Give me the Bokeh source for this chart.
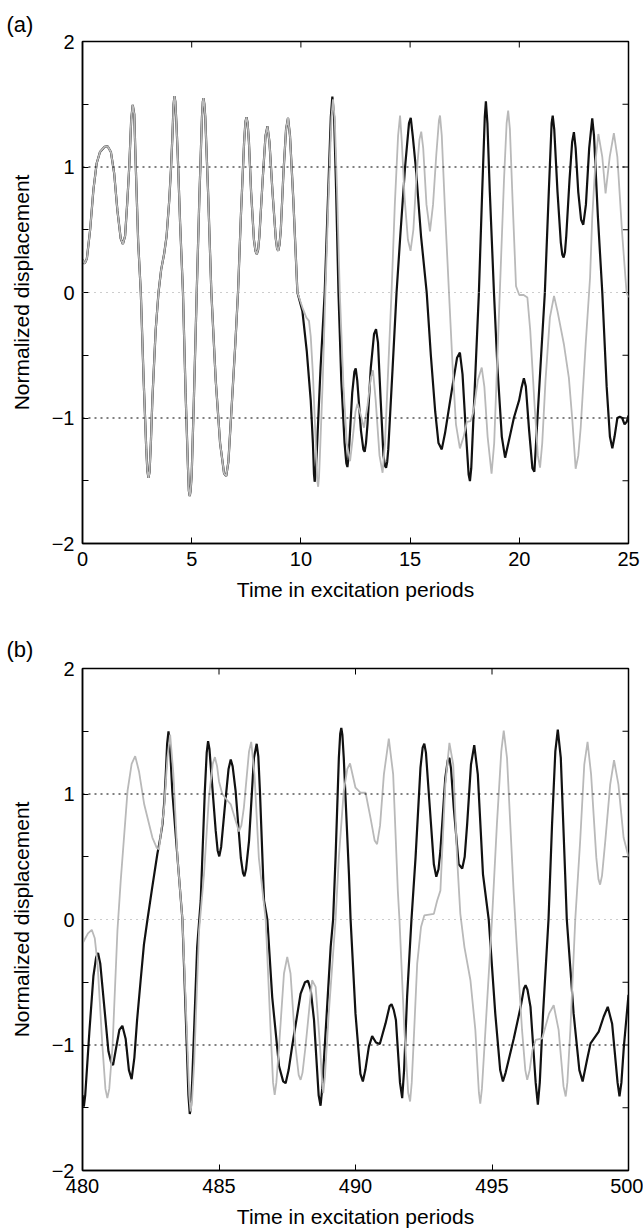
import math
from bokeh.plotting import figure
from bokeh.models import Range1d, FixedTicker, Span
from bokeh.layouts import column
from bokeh.embed import file_html
from bokeh.resources import INLINE

# ---------------- data ----------------
# panel (a): both responses coincide until ~9.8 periods
common_a = [(0.0, 0.26), (0.1, 0.23), (0.2, 0.27), (0.35, 0.5), (0.5, 0.82), (0.65, 1.03),
            (0.8, 1.12), (1.0, 1.16), (1.15, 1.165), (1.3, 1.12), (1.45, 0.95), (1.6, 0.65),
            (1.75, 0.43), (1.85, 0.386), (1.95, 0.45), (2.05, 0.72), (2.14, 1.0), (2.23, 1.38),
            (2.3, 1.495), (2.37, 1.42), (2.44, 1.0), (2.55, 0.4), (2.67, 0.0), (2.8, -0.7),
            (2.92, -1.25), (2.97, -1.42), (3.02, -1.476), (3.07, -1.43), (3.13, -1.2), (3.2, -0.85),
            (3.35, -0.3), (3.48, 0.0), (3.6, 0.18), (3.74, 0.31), (3.85, 0.45), (3.97, 0.73),
            (4.05, 0.98), (4.12, 1.26), (4.17, 1.5), (4.21, 1.564), (4.25, 1.52), (4.3, 1.35),
            (4.36, 1.1), (4.47, 0.55), (4.6, 0.0), (4.72, -0.8), (4.83, -1.4), (4.87, -1.58),
            (4.91, -1.622), (4.95, -1.58), (5.0, -1.45), (5.1, -0.85), (5.23, 0.0), (5.35, 0.75),
            (5.47, 1.4), (5.51, 1.52), (5.54, 1.548), (5.58, 1.5), (5.62, 1.4), (5.75, 0.8),
            (5.9, 0.0), (6.1, -0.7), (6.3, -1.2), (6.48, -1.44), (6.58, -1.463), (6.68, -1.35),
            (6.85, -0.85), (7.0, -0.4), (7.12, 0.0), (7.25, 0.6), (7.4, 1.2), (7.46, 1.36),
            (7.51, 1.396), (7.56, 1.35), (7.62, 1.2), (7.72, 0.8), (7.85, 0.42), (7.92, 0.33),
            (7.98, 0.306), (8.04, 0.34), (8.1, 0.45), (8.25, 0.9), (8.38, 1.25), (8.47, 1.324),
            (8.56, 1.2), (8.7, 0.8), (8.85, 0.43), (8.91, 0.35), (8.96, 0.332), (9.02, 0.38),
            (9.08, 0.5), (9.2, 0.95), (9.32, 1.3), (9.41, 1.391), (9.5, 1.25), (9.65, 0.75),
            (9.84, 0.0)]

black_a_rest = [(10.07, -0.15), (10.27, -0.47), (10.45, -0.86), (10.55, -1.2), (10.6, -1.45),
                (10.63, -1.508), (10.67, -1.45), (10.72, -1.3), (10.9, -0.6), (11.09, 0.0),
                (11.25, 0.8), (11.37, 1.4), (11.44, 1.561), (11.52, 1.4), (11.6, 0.9), (11.72, 0.0),
                (11.85, -0.7), (12.0, -1.2), (12.08, -1.36), (12.13, -1.391), (12.17, -1.33),
                (12.22, -1.2), (12.35, -0.8), (12.45, -0.63), (12.51, -0.604), (12.58, -0.7),
                (12.75, -1.1), (12.86, -1.25), (12.92, -1.269), (12.98, -1.2), (13.05, -1.05),
                (13.2, -0.6), (13.35, -0.33), (13.44, -0.293), (13.53, -0.4), (13.65, -0.85),
                (13.78, -1.3), (13.85, -1.38), (13.9, -1.396), (13.95, -1.35), (14.0, -1.25),
                (14.2, -0.6), (14.38, 0.0), (14.55, 0.45), (14.77, 1.0), (14.95, 1.35),
                (15.03, 1.391), (15.12, 1.25), (15.26, 1.0), (15.5, 0.45), (15.76, 0.0),
                (15.95, -0.5), (16.15, -0.95), (16.3, -1.2), (16.45, -1.25), (16.6, -1.12),
                (16.8, -0.9), (17.0, -0.68), (17.15, -0.52), (17.28, -0.479), (17.4, -0.65),
                (17.55, -1.1), (17.68, -1.45), (17.74, -1.503), (17.8, -1.4), (17.85, -1.2),
                (18.0, -0.6), (18.15, 0.0), (18.3, 0.8), (18.42, 1.4), (18.47, 1.524), (18.54, 1.35),
                (18.65, 0.8), (18.84, 0.0), (19.0, -0.6), (19.2, -1.15), (19.35, -1.316),
                (19.5, -1.2), (19.75, -1.0), (19.99, -0.86), (20.1, -0.76), (20.21, -0.684),
                (20.3, -0.75), (20.45, -1.1), (20.6, -1.4), (20.69, -1.428), (20.8, -1.1),
                (21.0, -0.5), (21.17, 0.0), (21.35, 0.8), (21.48, 1.35), (21.53, 1.41), (21.6, 1.3),
                (21.75, 0.8), (21.9, 0.4), (21.97, 0.3), (22.03, 0.279), (22.09, 0.32),
                (22.15, 0.45), (22.3, 0.9), (22.42, 1.2), (22.5, 1.277), (22.58, 1.15), (22.7, 0.8),
                (22.83, 0.58), (22.93, 0.54), (23.05, 0.7), (23.2, 1.15), (23.34, 1.388),
                (23.42, 1.25), (23.6, 0.6), (23.8, 0.0), (24.0, -0.75), (24.15, -1.15),
                (24.26, -1.242), (24.36, -1.15), (24.49, -1.0), (24.6, -0.99), (24.71, -1.0),
                (24.82, -1.05), (24.92, -1.03), (25.0, -0.98)]

gray_a_rest = [(10.07, -0.12), (10.25, -0.2), (10.37, -0.226), (10.45, -0.35), (10.55, -0.65),
               (10.68, -1.2), (10.75, -1.5), (10.79, -1.548), (10.83, -1.47), (10.87, -1.3),
               (11.0, -0.7), (11.12, 0.0), (11.27, 0.8), (11.4, 1.4), (11.47, 1.54), (11.55, 1.38),
               (11.65, 0.85), (11.78, 0.0), (11.95, -0.75), (12.1, -1.2), (12.25, -1.343),
               (12.38, -1.15), (12.5, -0.95), (12.59, -0.886), (12.7, -0.95), (12.89, -1.077),
               (13.05, -0.9), (13.2, -0.68), (13.3, -0.62), (13.42, -0.85), (13.6, -1.3),
               (13.74, -1.436), (13.85, -1.2), (14.0, -0.6), (14.15, 0.0), (14.3, 0.7),
               (14.45, 1.25), (14.54, 1.41), (14.62, 1.2), (14.75, 0.75), (14.9, 0.42),
               (15.02, 0.332), (15.15, 0.5), (15.3, 0.95), (15.43, 1.22), (15.51, 1.282),
               (15.6, 1.15), (15.75, 0.7), (15.91, 0.487), (16.05, 0.7), (16.2, 1.1), (16.32, 1.37),
               (16.37, 1.41), (16.45, 1.25), (16.6, 0.65), (16.78, 0.0), (16.95, -0.6),
               (17.1, -1.05), (17.28, -1.242), (17.45, -1.15), (17.6, -1.03), (17.77, -1.024),
               (17.9, -0.95), (18.1, -0.7), (18.28, -0.598), (18.4, -0.75), (18.55, -1.15),
               (18.73, -1.444), (18.85, -1.2), (19.0, -0.5), (19.15, 0.2), (19.3, 0.9),
               (19.42, 1.35), (19.49, 1.449), (19.57, 1.3), (19.7, 0.7), (19.85, 0.05),
               (20.0, -0.02), (20.2, -0.02), (20.37, -0.04), (20.5, -0.3), (20.7, -0.9),
               (20.85, -1.3), (20.95, -1.396), (21.05, -1.2), (21.2, -0.7), (21.4, -0.2),
               (21.59, -0.027), (21.75, -0.15), (22.04, -0.41), (22.27, -0.68), (22.43, -1.02),
               (22.58, -1.404), (22.7, -1.3), (22.81, -1.08), (23.04, -0.41), (23.24, 0.12),
               (23.34, 0.6), (23.49, 1.05), (23.62, 1.263), (23.8, 1.08), (23.95, 0.79),
               (24.14, 1.08), (24.33, 1.269), (24.49, 1.08), (24.71, 0.47), (24.91, 0.0),
               (25.0, -0.04)]

black_b = [(480.0, -1.4), (480.05, -1.49), (480.1, -1.4), (480.25, -0.9), (480.4, -0.45), (480.5, -0.3),
           (480.57, -0.267), (480.65, -0.35), (480.8, -0.7), (480.95, -1.05), (481.05, -1.14),
           (481.12, -1.159), (481.25, -1.0), (481.35, -0.88), (481.46, -0.847), (481.58, -0.95),
           (481.7, -1.2), (481.8, -1.272), (481.9, -1.1), (482.0, -0.8), (482.13, -0.484),
           (482.25, -0.2), (482.38, 0.0), (482.55, 0.25), (482.74, 0.52), (482.85, 0.65),
           (482.93, 0.76), (483.0, 0.95), (483.05, 1.156), (483.1, 1.4), (483.15, 1.5),
           (483.2, 1.4), (483.29, 1.02), (483.48, 0.49), (483.66, 0.0), (483.78, -0.75),
           (483.88, -1.4), (483.93, -1.55), (483.97, -1.5), (484.02, -1.28), (484.2, -0.22),
           (484.33, 0.15), (484.48, 1.02), (484.55, 1.33), (484.6, 1.421), (484.65, 1.36),
           (484.72, 1.156), (484.88, 0.706), (484.95, 0.55), (485.01, 0.503), (485.08, 0.58),
           (485.21, 0.89), (485.35, 1.2), (485.43, 1.275), (485.5, 1.22), (485.61, 1.02),
           (485.8, 0.49), (485.88, 0.37), (485.93, 0.344), (485.99, 0.4), (486.1, 0.627),
           (486.28, 1.288), (486.38, 1.4), (486.44, 1.3), (486.5, 1.02), (486.65, 0.15),
           (486.77, 0.0), (486.95, -0.62), (487.2, -1.17), (487.35, -1.29), (487.44, -1.304),
           (487.55, -1.2), (487.68, -1.01), (487.99, -0.59), (488.15, -0.5), (488.26, -0.489),
           (488.36, -0.56), (488.48, -0.8), (488.65, -1.4), (488.72, -1.484), (488.78, -1.35),
           (488.91, -0.88), (489.09, -0.22), (489.18, 0.0), (489.27, 0.495), (489.39, 1.288),
           (489.44, 1.48), (489.48, 1.526), (489.52, 1.47), (489.57, 1.288), (489.76, 0.36),
           (489.82, 0.0), (490.0, -0.75), (490.18, -1.23), (490.27, -1.291), (490.36, -1.2),
           (490.49, -1.013), (490.61, -0.929), (490.75, -0.98), (490.89, -0.992), (491.1, -0.828),
           (491.25, -0.69), (491.32, -0.675), (491.4, -0.72), (491.48, -0.8), (491.63, -1.3),
           (491.71, -1.423), (491.78, -1.2), (491.89, -0.616), (492.05, 0.0), (492.2, 0.495),
           (492.38, 1.21), (492.46, 1.37), (492.52, 1.4), (492.58, 1.33), (492.68, 1.02),
           (492.87, 0.44), (492.96, 0.341), (493.04, 0.4), (493.11, 0.548), (493.29, 1.13),
           (493.38, 1.27), (493.44, 1.288), (493.5, 1.2), (493.6, 0.89), (493.78, 0.44),
           (493.91, 0.407), (494.0, 0.5), (494.09, 0.76), (494.23, 1.235), (494.35, 1.389),
           (494.48, 1.156), (494.67, 0.36), (494.88, 0.0), (495.12, -0.75), (495.3, -1.2),
           (495.4, -1.291), (495.5, -1.22), (495.61, -1.119), (495.8, -0.947), (496.05, -0.696),
           (496.17, -0.55), (496.23, -0.524), (496.3, -0.56), (496.41, -0.696), (496.6, -1.3),
           (496.68, -1.476), (496.75, -1.3), (496.87, -0.75), (497.07, 0.0), (497.2, 0.76),
           (497.32, 1.34), (497.41, 1.513), (497.52, 1.288), (497.68, 0.36), (497.74, 0.0),
           (497.99, -0.75), (498.2, -1.2), (498.32, -1.291), (498.48, -1.12), (498.61, -0.987),
           (498.91, -0.894), (499.09, -0.775), (499.24, -0.696), (499.4, -0.83), (499.6, -1.3),
           (499.67, -1.41), (499.74, -1.3), (499.83, -1.013), (500.0, -0.6)]

gray_b = [(480.0, -0.19), (480.04, -0.175), (480.2, -0.11), (480.34, -0.082), (480.45, -0.15),
          (480.55, -0.35), (480.73, -1.01), (480.84, -1.35), (480.91, -1.423), (480.98, -1.35),
          (481.1, -1.01), (481.28, -0.087), (481.4, 0.31), (481.65, 1.024), (481.8, 1.24),
          (481.93, 1.302), (482.07, 1.18), (482.26, 0.918), (482.56, 0.653), (482.72, 0.57),
          (482.8, 0.561), (482.99, 0.89), (483.11, 1.288), (483.21, 1.474), (483.33, 1.156),
          (483.48, 0.49), (483.66, 0.0), (483.82, -0.88), (483.91, -1.4), (483.96, -1.529),
          (484.01, -1.45), (484.09, -1.145), (484.27, -0.087), (484.45, 0.36), (484.63, 0.97),
          (484.77, 1.24), (484.85, 1.294), (484.93, 1.22), (485.0, 1.1), (485.12, 1.0),
          (485.3, 0.95), (485.43, 0.918), (485.61, 0.786), (485.73, 0.701), (485.82, 0.75),
          (485.91, 0.89), (486.1, 1.34), (486.18, 1.415), (486.3, 1.156), (486.46, 0.49),
          (486.71, 0.0), (486.89, -0.88), (486.98, -1.3), (487.04, -1.397), (487.1, -1.3),
          (487.2, -1.01), (487.38, -0.43), (487.5, -0.299), (487.62, -0.43), (487.8, -1.01),
          (487.92, -1.24), (487.99, -1.278), (488.06, -1.22), (488.17, -1.01), (488.41, -0.484),
          (488.54, -0.537), (488.7, -1.01), (488.78, -1.3), (488.82, -1.384), (488.88, -1.25),
          (489.02, -0.75), (489.27, 0.0), (489.39, 0.495), (489.57, 1.024), (489.7, 1.2),
          (489.8, 1.243), (490.0, 1.05), (490.18, 1.01), (490.37, 1.01), (490.55, 0.81),
          (490.7, 0.63), (490.79, 0.6), (490.9, 0.75), (491.04, 1.156), (491.22, 1.442),
          (491.38, 1.156), (491.55, 0.23), (491.61, 0.0), (491.79, -0.88), (491.93, -1.38),
          (492.0, -1.45), (492.06, -1.3), (492.15, -0.88), (492.26, -0.352), (492.4, -0.06),
          (492.52, 0.032), (492.87, 0.045), (492.99, 0.15), (493.11, 0.23), (493.29, 1.077),
          (493.44, 1.407), (493.58, 1.235), (493.72, 0.495), (493.84, 0.045), (493.99, -0.22),
          (494.21, -0.484), (494.39, -0.88), (494.52, -1.38), (494.57, -1.468), (494.63, -1.35),
          (494.76, -0.88), (495.0, 0.0), (495.18, 0.76), (495.34, 1.34), (495.43, 1.505),
          (495.55, 1.288), (495.79, 0.23), (495.91, -0.22), (496.1, -0.88), (496.22, -1.2),
          (496.29, -1.278), (496.38, -1.2), (496.48, -1.04), (496.6, -0.96), (496.84, -0.947),
          (497.09, -0.75), (497.26, -0.683), (497.44, -0.88), (497.62, -1.33), (497.7, -1.41),
          (497.76, -1.3), (497.87, -0.88), (498.05, 0.0), (498.23, 0.627), (498.38, 1.235),
          (498.5, 1.415), (498.63, 1.156), (498.82, 0.495), (498.9, 0.32), (498.96, 0.278),
          (499.03, 0.35), (499.15, 0.627), (499.33, 1.077), (499.47, 1.27), (499.63, 1.077),
          (499.82, 0.653), (500.0, 0.5)]

x_ticks_a = [0, 5, 10, 15, 20, 25]
x_ticks_b = [480, 485, 490, 495, 500]
y_ticks = [-2, -1, 0, 1, 2]
y_minor = [-1.5, -0.5, 0.5, 1.5]
y_tick_labels = {-2: "\u22122", -1: "\u22121", 0: "0", 1: "1", 2: "2"}
ref_levels = [1, -1]
zero_level = 0
y_lo, y_hi = -2, 2

FONT = "Liberation Sans"
FS = "20px"
LFS = "21px"


def unzip(pairs):
    return [p[0] for p in pairs], [p[1] for p in pairs]


def style_axis(ax, ticker, overrides=None):
    ax.ticker = ticker
    ax.axis_line_color = "black"
    ax.axis_line_width = 1.5
    ax.major_tick_in = 6
    ax.major_tick_out = 0
    ax.minor_tick_in = 6
    ax.minor_tick_out = 0
    ax.major_tick_line_color = "black"
    ax.minor_tick_line_color = "black"
    ax.major_tick_line_width = 1
    ax.minor_tick_line_width = 1
    ax.major_label_text_font = FONT
    ax.major_label_text_color = "black"
    ax.major_label_text_font_size = FS
    ax.major_label_standoff = 8
    ax.axis_label_text_font = FONT
    ax.axis_label_text_font_style = "normal"
    ax.axis_label_text_font_size = LFS
    ax.axis_label_text_color = "black"
    if overrides:
        ax.major_label_overrides = overrides


def make_panel(x0, x1, xticks, black, gray, tag, height, top, tag_standoff):
    p = figure(width=643, height=height, x_range=Range1d(x0, x1), y_range=Range1d(y_lo, y_hi),
               output_backend="svg", toolbar_location=None,
               min_border_left=82, min_border_right=15, min_border_top=top,
               min_border_bottom=height - top - 502)
    p.grid.grid_line_color = None
    p.outline_line_color = "black"
    p.outline_line_width = 1.5
    p.background_fill_color = "white"
    p.border_fill_color = "white"

    style_axis(p.xaxis[0], FixedTicker(ticks=xticks))
    style_axis(p.yaxis[0], FixedTicker(ticks=y_ticks, minor_ticks=y_minor), overrides=y_tick_labels)
    p.xaxis[0].axis_label = "Time in excitation periods"
    p.xaxis[0].axis_label_standoff = 9
    p.yaxis[0].axis_label = "Normalized displacement"
    p.yaxis[0].axis_label_standoff = 16

    # panel tag "(a)" / "(b)" as the figure title
    p.title.text = tag
    p.title.align = "left"
    p.title.offset = -76
    p.title.standoff = tag_standoff
    p.title.text_font = FONT
    p.title.text_font_size = "22px"
    p.title.text_font_style = "normal"
    p.title.text_color = "black"

    # inward tick marks on the top and right frame edges (clipped to the frame)
    p.scatter(xticks, [y_hi] * len(xticks), marker="dash", size=12, angle=math.pi / 2,
              line_color="black", line_width=1)
    right_t = y_ticks + y_minor
    p.scatter([x1] * len(right_t), right_t, marker="dash", size=12,
              line_color="black", line_width=1)

    for lv in ref_levels:
        p.add_layout(Span(location=lv, dimension="width", line_color="black",
                          line_dash="2 4", line_width=1))
    p.add_layout(Span(location=zero_level, dimension="width", line_color="#9a9a9a",
                      line_dash="1 5", line_width=1))

    bt, by = unzip(black)
    gt, gy = unzip(gray)
    p.line(bt, by, line_color="#111111", line_width=2.2)
    p.line(gt, gy, line_color="#b9b9b9", line_width=1.8)
    return p


p1 = make_panel(0, 25, x_ticks_a, common_a + black_a_rest, common_a + gray_a_rest, "(a)", 605, 41, 10)
p2 = make_panel(480, 500, x_ticks_b, black_b, gray_b, "(b)", 625, 63, 13)

layout = column(p1, p2, spacing=0)
open("out.html", "w").write(file_html(layout, INLINE))
